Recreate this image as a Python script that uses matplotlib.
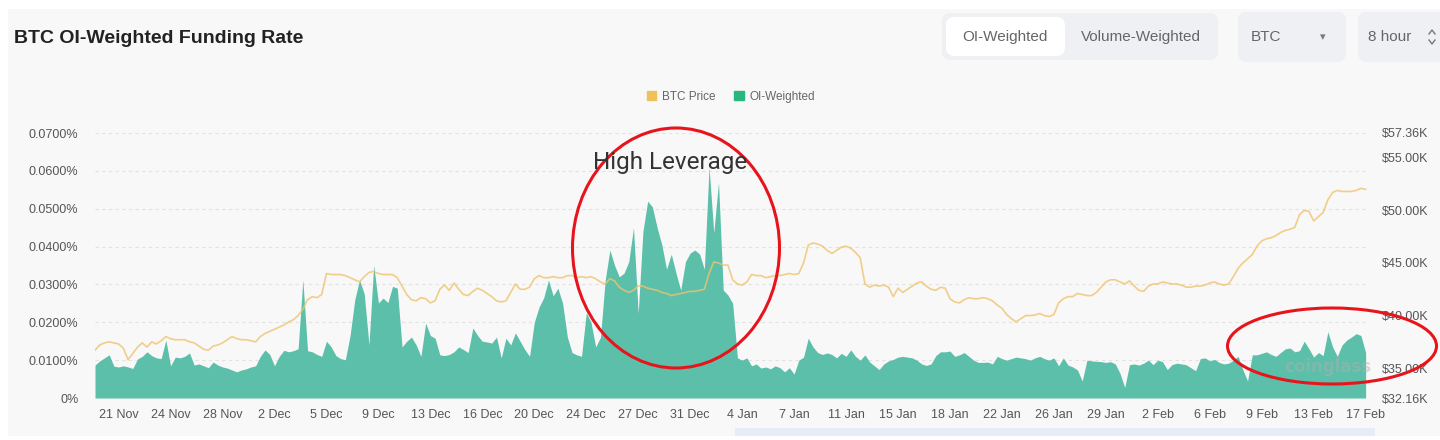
import matplotlib.pyplot as plt
from matplotlib.patches import Ellipse, FancyBboxPatch, Rectangle, Patch
from matplotlib.lines import Line2D
import numpy as np

# OI-weighted funding rate, 8h intervals, in %
funding = [
    0.0087, 0.0098, 0.0106, 0.0114, 0.0084, 0.0082, 0.0085, 0.0082, 0.0078, 0.0103,
    0.0110, 0.0122, 0.0112, 0.0106, 0.0104, 0.0153, 0.0085, 0.0108, 0.0106, 0.0110,
    0.0119, 0.0087, 0.0090, 0.0085, 0.0080, 0.0095, 0.0087, 0.0082, 0.0079, 0.0074,
    0.0069, 0.0074, 0.0077, 0.0082, 0.0085, 0.0110, 0.0127, 0.0115, 0.0085, 0.0110,
    0.0126, 0.0122, 0.0125, 0.0130, 0.0312, 0.0125, 0.0122, 0.0115, 0.0110, 0.0150,
    0.0135, 0.0112, 0.0104, 0.0101, 0.0165, 0.0260, 0.0312, 0.0275, 0.0140, 0.0351,
    0.0251, 0.0264, 0.0252, 0.0295, 0.0290, 0.0135, 0.0150, 0.0161, 0.0140, 0.0110,
    0.0198, 0.0165, 0.0158, 0.0114, 0.0112, 0.0115, 0.0122, 0.0135, 0.0128, 0.0120,
    0.0185, 0.0165, 0.0150, 0.0148, 0.0145, 0.0161, 0.0106, 0.0158, 0.0140, 0.0172,
    0.0150, 0.0128, 0.0110, 0.0200, 0.0240, 0.0265, 0.0312, 0.0270, 0.0290, 0.0250,
    0.0161, 0.0120, 0.0114, 0.0110, 0.0225, 0.0200, 0.0135, 0.0160, 0.0310, 0.0391,
    0.0350, 0.0320, 0.0330, 0.0360, 0.0450, 0.0224, 0.0440, 0.0520, 0.0505, 0.0450,
    0.0405, 0.0340, 0.0380, 0.0330, 0.0285, 0.0360, 0.0383, 0.0391, 0.0380, 0.0340,
    0.0610, 0.0436, 0.0570, 0.0285, 0.0272, 0.0250, 0.0106, 0.0100, 0.0106, 0.0085,
    0.0090, 0.0079, 0.0082, 0.0077, 0.0085, 0.0080, 0.0069, 0.0080, 0.0063, 0.0100,
    0.0108, 0.0158, 0.0135, 0.0120, 0.0115, 0.0119, 0.0115, 0.0106, 0.0118, 0.0110,
    0.0127, 0.0110, 0.0100, 0.0114, 0.0095, 0.0085, 0.0075, 0.0090, 0.0098, 0.0102,
    0.0108, 0.0110, 0.0108, 0.0106, 0.0100, 0.0090, 0.0086, 0.0090, 0.0112, 0.0122,
    0.0122, 0.0124, 0.0110, 0.0114, 0.0120, 0.0110, 0.0100, 0.0094, 0.0094, 0.0095,
    0.0090, 0.0110, 0.0104, 0.0100, 0.0104, 0.0108, 0.0106, 0.0104, 0.0100, 0.0106,
    0.0110, 0.0104, 0.0100, 0.0106, 0.0085, 0.0106, 0.0087, 0.0082, 0.0074, 0.0045,
    0.0100, 0.0098, 0.0097, 0.0096, 0.0094, 0.0096, 0.0090, 0.0065, 0.0028, 0.0088,
    0.0090, 0.0087, 0.0092, 0.0100, 0.0088, 0.0100, 0.0096, 0.0075, 0.0088, 0.0092,
    0.0090, 0.0088, 0.0080, 0.0072, 0.0104, 0.0106, 0.0098, 0.0102, 0.0094, 0.0090,
    0.0092, 0.0100, 0.0110, 0.0075, 0.0045, 0.0114, 0.0114, 0.0118, 0.0122, 0.0115,
    0.0110, 0.0120, 0.0130, 0.0132, 0.0122, 0.0125, 0.0150, 0.0130, 0.0108, 0.0120,
    0.0112, 0.0175, 0.0135, 0.0110, 0.0140, 0.0153, 0.0161, 0.0170, 0.0165, 0.0120,
]

# BTC price in thousands of USD, same intervals
price = [
    36.7, 37.2, 37.4, 37.5, 37.4, 37.3, 36.9, 35.8, 36.4, 37.0,
    37.4, 37.0, 37.5, 37.3, 37.6, 38.0, 37.8, 37.7, 37.7, 37.7,
    37.5, 37.4, 37.1, 36.8, 36.7, 37.1, 37.2, 37.4, 37.7, 38.0,
    37.8, 37.7, 37.7, 37.6, 37.5, 38.0, 38.3, 38.5, 38.7, 38.9,
    39.1, 39.4, 39.6, 40.0, 40.6, 41.5, 41.8, 41.7, 42.0, 44.0,
    43.9, 43.9, 43.9, 43.8, 43.6, 43.4, 43.2, 43.7, 44.1, 44.2,
    44.0, 43.9, 43.9, 43.9, 43.6, 42.8, 42.0, 41.5, 41.4, 41.7,
    41.6, 41.2, 41.4, 42.5, 42.9, 42.4, 43.1, 42.5, 42.0, 41.9,
    42.3, 42.6, 42.4, 42.1, 41.8, 41.4, 41.3, 41.4, 42.2, 43.0,
    42.5, 42.5, 42.7, 43.5, 43.8, 43.6, 43.6, 43.7, 43.6, 43.6,
    43.8, 43.8, 43.6, 43.7, 43.6, 43.7, 43.5, 43.2, 43.0, 43.5,
    43.3, 42.7, 42.4, 42.2, 42.4, 42.8, 42.8, 42.6, 42.5, 42.4,
    42.2, 42.1, 41.9, 42.0, 42.1, 42.2, 42.3, 42.3, 42.4, 42.5,
    44.0, 45.1, 45.0, 44.8, 44.8, 43.4, 43.0, 42.9, 43.2, 43.9,
    43.8, 43.8, 43.6, 43.7, 43.8, 43.8, 43.9, 44.0, 43.9, 44.0,
    45.0, 46.7, 46.9, 46.8, 46.6, 46.2, 45.9, 46.2, 46.5, 46.6,
    46.4, 46.0, 45.5, 43.0, 42.7, 42.9, 42.8, 42.9, 42.7, 41.8,
    42.6, 42.2, 42.5, 42.8, 43.1, 43.2, 42.8, 42.5, 42.4, 42.7,
    42.6, 41.6, 41.3, 41.2, 41.5, 41.7, 41.6, 41.6, 41.7, 41.6,
    41.4, 41.0, 40.7, 40.1, 39.7, 39.4, 39.7, 40.0, 40.0, 40.05,
    40.2, 40.0, 39.9, 40.1, 41.2, 41.6, 41.8, 41.8, 42.1, 42.0,
    41.9, 41.9, 42.2, 42.7, 43.2, 43.4, 43.4, 43.2, 43.0, 43.3,
    42.8, 42.4, 42.3, 42.8, 43.0, 43.0, 43.2, 43.1, 43.0, 43.0,
    42.9, 42.7, 42.7, 42.8, 42.8, 42.9, 43.1, 43.2, 43.0, 42.9,
    43.0, 43.7, 44.5, 45.0, 45.4, 45.8, 46.6, 47.1, 47.3, 47.4,
    47.6, 47.9, 48.1, 48.2, 48.4, 49.6, 50.0, 49.9, 49.0, 49.4,
    49.8, 51.0, 51.7, 51.9, 51.8, 51.8, 51.8, 51.9, 52.1, 52.0,
]

tick_labels = ["21 Nov", "24 Nov", "28 Nov", "2 Dec", "5 Dec", "9 Dec", "13 Dec",
               "16 Dec", "20 Dec", "24 Dec", "27 Dec", "31 Dec", "4 Jan", "7 Jan",
               "11 Jan", "15 Jan", "18 Jan", "22 Jan", "26 Jan", "29 Jan", "2 Feb",
               "6 Feb", "9 Feb", "13 Feb", "17 Feb"]
funding_ticks = [0, 0.01, 0.02, 0.03, 0.04, 0.05, 0.06, 0.07]
price_ticks = [32.16, 35, 40, 45, 50, 55, 57.36]

GREEN = '#5cbfa9'
ORANGE = '#f0c36d'
FONT = ['Liberation Sans', 'DejaVu Sans']
W, H = 1440, 440


def fx(x):
    return x / W


def fy(y):
    return 1 - y / H


def box(x0, y0, x1, y1, color):
    p = FancyBboxPatch((fx(x0), fy(y1)), fx(x1) - fx(x0), fy(y0) - fy(y1),
                       boxstyle='round,pad=0,rounding_size=0.006', mutation_aspect=W / H,
                       fc=color, ec='none', transform=fig.transFigure)
    fig.add_artist(p)


fig = plt.figure(figsize=(14.4, 4.4), dpi=100, facecolor='white')
fig.add_artist(Rectangle((fx(8), fy(436)), 1, fy(9) - fy(436), fc='#f8f8f8', ec='none',
                         transform=fig.transFigure, zorder=-2))

ax = fig.add_axes([fx(95), fy(398), fx(1368) - fx(95), fy(133) - fy(398)])
ax.set_facecolor('none')
idx = np.arange(len(funding))
ax.fill_between(idx, 0, funding, color=GREEN, lw=0)
ax.set_xlim(0, 269.5)
ax.set_ylim(0, 0.07)
ax.set_yticks(funding_ticks)
ax.set_yticklabels(['0%'] + ['%.4f%%' % v for v in funding_ticks[1:]])
ax.set_xticks(5 + 11 * np.arange(len(tick_labels)))
ax.set_xticklabels(tick_labels)
ax.grid(axis='y', color='#e2e2e2', ls=(0, (3, 3)), lw=0.8)
ax.set_axisbelow(True)
ax.tick_params(length=0, colors='#555', labelsize=9, pad=12)
ax.tick_params(axis='x', pad=8)
for s in ax.spines.values():
    s.set_visible(False)
for lab in ax.get_xticklabels() + ax.get_yticklabels():
    lab.set_family(FONT)

ax2 = ax.twinx()
ax2.plot(idx, price, color=ORANGE, lw=1.2, alpha=0.8)
ax2.set_ylim(32.16, 57.36)
ax2.set_yticks(price_ticks)
ax2.set_yticklabels(['$%.2fK' % v for v in price_ticks])
ax2.tick_params(length=0, colors='#555', labelsize=9, pad=10)
for s in ax2.spines.values():
    s.set_visible(False)
for lab in ax2.get_yticklabels():
    lab.set_family(FONT)

# title and controls
fig.text(fx(14), fy(38), 'BTC OI-Weighted Funding Rate', fontsize=14, weight='bold',
         color='#222', va='center', family=FONT)
box(942, 13, 1218, 60, '#eef0f4')
box(946, 17, 1065, 56, 'white')
fig.text(fx(1005), fy(37), 'OI-Weighted', fontsize=11, color='#666', ha='center', va='center', family=FONT)
fig.text(fx(1141), fy(37), 'Volume-Weighted', fontsize=11, color='#666', ha='center', va='center', family=FONT)
box(1238, 12, 1346, 62, '#eef0f4')
fig.text(fx(1266), fy(37), 'BTC', fontsize=11, color='#666', ha='center', va='center', family=FONT)
fig.text(fx(1323), fy(37), '▾', fontsize=8, color='#777', ha='center', va='center')
box(1358, 12, 1450, 62, '#eef0f4')
fig.text(fx(1390), fy(37), '8 hour', fontsize=11, color='#666', ha='center', va='center', family=FONT)
fig.add_artist(Line2D([fx(1429), fx(1432), fx(1435)], [fy(34), fy(30), fy(34)], color='#777', lw=1,
                      transform=fig.transFigure))
fig.add_artist(Line2D([fx(1429), fx(1432), fx(1435)], [fy(40), fy(44), fy(40)], color='#777', lw=1,
                      transform=fig.transFigure))

fig.legend(handles=[Patch(color='#efc15a'), Patch(color='#28b77f')],
           labels=['BTC Price', 'OI-Weighted'], loc='center', bbox_to_anchor=(fx(731), fy(97)),
           ncol=2, frameon=False, handlelength=0.8, handleheight=0.8,
           columnspacing=1.6, handletextpad=0.5, labelcolor='#666', prop={'family': FONT, 'size': 8.5})

# annotations
fig.add_artist(Ellipse((fx(676), fy(248)), 207 / W, 240 / H, fill=False, ec='#e8141c', lw=2.2,
                       transform=fig.transFigure))
fig.add_artist(Ellipse((fx(1332), fy(346)), 209 / W, 76 / H, fill=False, ec='#e8141c', lw=2.2,
                       transform=fig.transFigure))
fig.text(fx(670), fy(162), 'High Leverage', fontsize=17.5, color='#333', ha='center', va='center',
         family=['Roboto', 'DejaVu Sans'])
fig.text(fx(1284), fy(367), 'coinglass', fontsize=12, color='#b0b0b0', alpha=0.45, va='center',
         weight='bold')

# zoom slider strip
fig.add_artist(Rectangle((fx(735), fy(436)), fx(1375) - fx(735), fy(428) - fy(436), fc='#e7ecf6',
                         ec='none', transform=fig.transFigure))

fig.savefig('out.png', dpi=100, facecolor=fig.get_facecolor())
